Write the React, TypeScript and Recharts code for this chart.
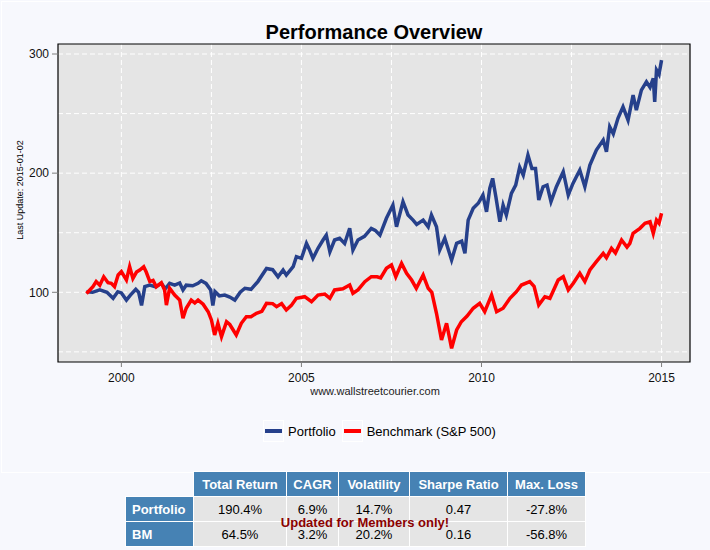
import React from 'react';
import { LineChart, Line, XAxis, YAxis, CartesianGrid, ReferenceArea } from 'recharts';

// decimal years
const portfolioYears = [
  1999.03, 1999.2, 1999.4, 1999.6, 1999.77, 1999.9, 2000.0, 2000.14, 2000.25, 2000.4, 2000.48, 2000.56,
  2000.65, 2000.79, 2000.95, 2001.11, 2001.22, 2001.34, 2001.48, 2001.62, 2001.71, 2001.8, 2001.98, 2002.13,
  2002.22, 2002.35, 2002.48, 2002.54, 2002.6, 2002.72, 2002.87, 2003.01, 2003.15, 2003.3, 2003.43, 2003.6,
  2003.79, 2004.03, 2004.2, 2004.35, 2004.49, 2004.58, 2004.77, 2004.86, 2005.0, 2005.14, 2005.22, 2005.32,
  2005.46, 2005.6, 2005.69, 2005.79, 2005.92, 2006.06, 2006.2, 2006.34, 2006.43, 2006.57, 2006.75, 2006.94,
  2007.05, 2007.18, 2007.36, 2007.54, 2007.64, 2007.82, 2007.96, 2008.1, 2008.2, 2008.38, 2008.52, 2008.61,
  2008.75, 2008.84, 2008.98, 2009.17, 2009.31, 2009.45, 2009.54, 2009.63, 2009.77, 2009.91, 2010.04, 2010.14,
  2010.23, 2010.31, 2010.4, 2010.51, 2010.6, 2010.69, 2010.83, 2010.95, 2011.06, 2011.16, 2011.29, 2011.4,
  2011.5, 2011.59, 2011.71, 2011.82, 2011.93, 2012.08, 2012.27, 2012.41, 2012.54, 2012.73, 2012.87, 2013.01,
  2013.19, 2013.38, 2013.47, 2013.56, 2013.66, 2013.79, 2013.93, 2014.07, 2014.21, 2014.3, 2014.44, 2014.58,
  2014.68, 2014.77, 2014.81, 2014.86, 2014.93, 2015.0,
];
const portfolioValues = [
  100.5, 100, 102, 100, 95, 100.5, 99.5, 93.5, 97.7, 102.5, 100, 89,
  104.7, 106, 104.5, 107.5, 103, 107.5, 106, 107.8, 102, 106, 105.5, 107.5,
  109.7, 107.5, 102, 89, 100.5, 97, 97.7, 96, 93.5, 100, 103.4, 102.5,
  109, 120, 119, 113, 118.7, 114.5, 121.5, 129.9, 128.5, 141, 136, 128.5,
  136.9, 143.9, 148, 134, 143.9, 145.3, 141, 153.7, 135.5, 143.9, 147, 153.7,
  152, 148, 162.1, 173.2, 155, 176, 164.9, 160.6, 157, 160.6, 155, 164.9,
  155, 135.5, 145.3, 127.1, 141.1, 143, 132.7, 160.6, 170.5, 174.7, 181.6, 167.6,
  187.2, 195.6, 180, 159.2, 173.2, 164.9, 183, 190, 205, 198.4, 215.2, 204,
  204, 177.4, 188.6, 190, 176, 188.6, 201.2, 181.6, 191.4, 202.6, 188.6, 206.8,
  219.4, 227.8, 218, 238.9, 233, 246, 255.7, 244.5, 265.5, 252.9, 269.7, 276.7,
  272, 279.5, 259.9, 286.5, 283, 294.9,
];

const benchmarkYears = [
  1999.03, 1999.21, 1999.3, 1999.4, 1999.51, 1999.63, 1999.72, 1999.81, 1999.91, 2000.0, 2000.14, 2000.23,
  2000.32, 2000.42, 2000.51, 2000.62, 2000.69, 2000.79, 2000.88, 2000.97, 2001.11, 2001.2, 2001.25, 2001.34,
  2001.48, 2001.62, 2001.71, 2001.8, 2001.94, 2002.04, 2002.13, 2002.27, 2002.41, 2002.5, 2002.59, 2002.68,
  2002.78, 2002.92, 2003.01, 2003.19, 2003.33, 2003.47, 2003.6, 2003.75, 2003.9, 2004.03, 2004.2, 2004.31,
  2004.45, 2004.58, 2004.72, 2004.86, 2005.09, 2005.28, 2005.46, 2005.65, 2005.79, 2005.92, 2006.15, 2006.34,
  2006.43, 2006.57, 2006.76, 2006.94, 2007.1, 2007.2, 2007.36, 2007.5, 2007.62, 2007.78, 2007.92, 2008.06,
  2008.19, 2008.38, 2008.52, 2008.62, 2008.75, 2008.89, 2009.03, 2009.17, 2009.31, 2009.44, 2009.6, 2009.77,
  2009.95, 2010.09, 2010.28, 2010.42, 2010.6, 2010.79, 2010.97, 2011.11, 2011.34, 2011.46, 2011.59, 2011.76,
  2011.9, 2012.13, 2012.27, 2012.41, 2012.55, 2012.73, 2012.87, 2013.01, 2013.19, 2013.38, 2013.47, 2013.61,
  2013.72, 2013.89, 2014.04, 2014.12, 2014.21, 2014.4, 2014.54, 2014.68, 2014.77, 2014.86, 2014.93, 2015.0,
];
const benchmarkValues = [
  99, 104.7, 109, 106, 113, 108, 107.5, 104.7, 114.5, 117.3, 110.3, 121.5,
  111.7, 117, 118.7, 121.5, 117, 109, 110, 104.7, 108, 102, 89.3, 103.4,
  97.7, 93.5, 78.2, 86.6, 93.5, 91, 93.5, 90, 83.7, 76.8, 64.2, 74,
  62.8, 75.3, 73, 64.2, 74, 79.5, 79.5, 82.4, 84, 90.8, 90.5, 87.9,
  90.5, 85.2, 89, 95, 96.3, 92.1, 97.7, 98.5, 95, 102, 103, 106.1,
  99.2, 102, 108.9, 113.1, 113, 112, 120.1, 122.9, 113.1, 124.3, 115.9, 110.3,
  103.4, 114.5, 103.4, 100, 82.4, 60, 74, 53, 68.4, 75.3, 80, 86.6,
  90.8, 83.7, 97.7, 83.7, 86.6, 95, 100.5, 106.1, 109, 105, 89.3, 96.3,
  95, 110.3, 113.1, 102, 107.6, 115.9, 109, 118.7, 125.7, 132.7, 129, 136.9,
  133, 143.9, 138, 141.1, 149.5, 153.7, 157.9, 159.2, 149.5, 160.6, 158, 166.3,
];

const xTicks = [2000, 2005, 2010, 2015];
const yTicks = [100, 200, 300];
const gridX = [2000, 2002.5, 2005, 2007.5, 2010, 2012.5, 2015];
const gridY = [50, 100, 150, 200, 250, 300];

const statColumns = ['Total Return', 'CAGR', 'Volatility', 'Sharpe Ratio', 'Max. Loss'];
const statRows = ['Portfolio', 'BM'];
const portfolioStats = ['190.4%', '6.9%', '14.7%', '0.47', '-27.8%'];
const benchmarkStats = ['64.5%', '3.2%', '20.2%', '0.16', '-56.8%'];

const BLUE = '#26408B';
const RED = '#FF0000';
const BG = '#F7F8FD';
const FONT = 'Arial, "Liberation Sans", sans-serif';

const portfolioData = portfolioYears.map((t, i) => ({ t, v: portfolioValues[i] }));
const benchmarkData = benchmarkYears.map((t, i) => ({ t, v: benchmarkValues[i] }));

const colWidths = [68, 93, 52, 71, 98, 78];

function StatsTable() {
  const head: React.CSSProperties = {
    background: '#4682B4',
    color: '#fff',
    fontWeight: 700,
    border: '1px solid #fff',
    padding: 0,
    height: 24,
  };
  const cell: React.CSSProperties = {
    background: '#E5E5E5',
    color: '#000',
    border: '1px solid #fff',
    textAlign: 'center',
    padding: 0,
    height: 24,
  };
  const rowsData = [portfolioStats, benchmarkStats];
  return (
    <table
      style={{
        position: 'absolute',
        left: 125,
        top: 471,
        borderCollapse: 'collapse',
        tableLayout: 'fixed',
        width: 461,
        fontFamily: FONT,
        fontSize: 13,
      }}
    >
      <colgroup>
        {colWidths.map((w, i) => (
          <col key={i} style={{ width: w }} />
        ))}
      </colgroup>
      <tbody>
        <tr>
          <td style={{ padding: 0, border: 'none', borderRight: '1px solid #fff' }} />
          {statColumns.map((c) => (
            <td key={c} style={{ ...head, textAlign: 'center' }}>
              {c}
            </td>
          ))}
        </tr>
        {statRows.map((r, i) => (
          <tr key={r}>
            <td style={{ ...head, textAlign: 'left', paddingLeft: 6 }}>{r}</td>
            {rowsData[i].map((v, j) => (
              <td key={j} style={cell}>
                {v}
              </td>
            ))}
          </tr>
        ))}
      </tbody>
    </table>
  );
}

function LegendKey({ color }: { color: string }) {
  return (
    <span
      style={{
        display: 'inline-block',
        width: 21,
        height: 22,
        border: '1px solid #fff',
        boxSizing: 'border-box',
        position: 'relative',
        verticalAlign: 'middle',
      }}
    >
      <span
        style={{
          position: 'absolute',
          left: 1,
          top: 8,
          width: 17,
          height: 4,
          background: color,
        }}
      />
    </span>
  );
}

export default function App() {
  return (
    <div
      style={{
        position: 'relative',
        width: 710,
        height: 550,
        background: BG,
        fontFamily: FONT,
        overflow: 'hidden',
      }}
    >
      <style>{'body{margin:0;}'}</style>
      <div
        style={{
          position: 'absolute',
          left: 1,
          top: 1,
          width: 709,
          height: 470,
          borderLeft: '1px solid #fff',
          borderTop: '1px solid #fff',
          borderBottom: '1px solid #fff',
        }}
      />
      <div
        style={{
          position: 'absolute',
          left: 0,
          width: 748,
          top: 21,
          textAlign: 'center',
          fontSize: 20,
          fontWeight: 700,
          color: '#000',
        }}
      >
        Performance Overview
      </div>
      <div
        style={{
          position: 'absolute',
          left: 20,
          top: 190,
          transform: 'translate(-50%, -50%) rotate(-90deg)',
          fontSize: 9,
          color: '#000',
          whiteSpace: 'nowrap',
        }}
      >
        Last Update: 2015-01-02
      </div>
      <div style={{ position: 'absolute', left: 0, top: 0 }}>
        <LineChart width={710} height={471} margin={{ top: 44, right: 20, bottom: 79, left: 0 }}>
          <CartesianGrid
            fill="#E5E5E5"
            fillOpacity={1}
            stroke="#FFFFFF"
            strokeDasharray="5 3"
            horizontalValues={gridY}
            verticalValues={gridX}
          />
          <XAxis
            dataKey="t"
            type="number"
            domain={[1998.24, 2015.79]}
            ticks={xTicks}
            allowDataOverflow
            height={30}
            axisLine={false}
            tickLine={{ stroke: '#7F7F7F' }}
            tickSize={5}
            tickMargin={6}
            tick={{ fill: '#111', fontSize: 12 }}
          />
          <YAxis
            type="number"
            domain={[41.5, 308.4]}
            ticks={yTicks}
            allowDataOverflow
            width={58}
            axisLine={false}
            tickLine={{ stroke: '#7F7F7F' }}
            tickSize={6}
            tickMargin={3}
            tick={{ fill: '#111', fontSize: 12 }}
          />
          <Line
            data={portfolioData}
            dataKey="v"
            type="linear"
            stroke={BLUE}
            strokeWidth={3.5}
            dot={false}
            isAnimationActive={false}
          />
          <Line
            data={benchmarkData}
            dataKey="v"
            type="linear"
            stroke={RED}
            strokeWidth={3.5}
            dot={false}
            isAnimationActive={false}
          />
          <ReferenceArea
            x1={1998.24}
            x2={2015.79}
            y1={41.5}
            y2={308.4}
            fill="none"
            fillOpacity={0}
            stroke="#000000"
            strokeOpacity={1}
            strokeWidth={1.2}
            ifOverflow="visible"
          />
        </LineChart>
      </div>
      <div
        style={{
          position: 'absolute',
          left: 0,
          width: 750,
          top: 385,
          textAlign: 'center',
          fontSize: 11,
          color: '#222',
        }}
      >
        www.wallstreetcourier.com
      </div>
      <div
        style={{
          position: 'absolute',
          left: 263,
          top: 420,
          fontSize: 13,
          color: '#000',
          whiteSpace: 'nowrap',
          display: 'flex',
          alignItems: 'center',
        }}
      >
        <LegendKey color={BLUE} />
        <span style={{ marginLeft: 4, marginRight: 6 }}>Portfolio</span>
        <LegendKey color={RED} />
        <span style={{ marginLeft: 4 }}>Benchmark (S&amp;P 500)</span>
      </div>
      <StatsTable />
      <div
        style={{
          position: 'absolute',
          left: 0,
          width: 730,
          top: 515,
          textAlign: 'center',
          fontSize: 13,
          fontWeight: 700,
          color: '#8B0000',
        }}
      >
        Updated for Members only!
      </div>
    </div>
  );
}
